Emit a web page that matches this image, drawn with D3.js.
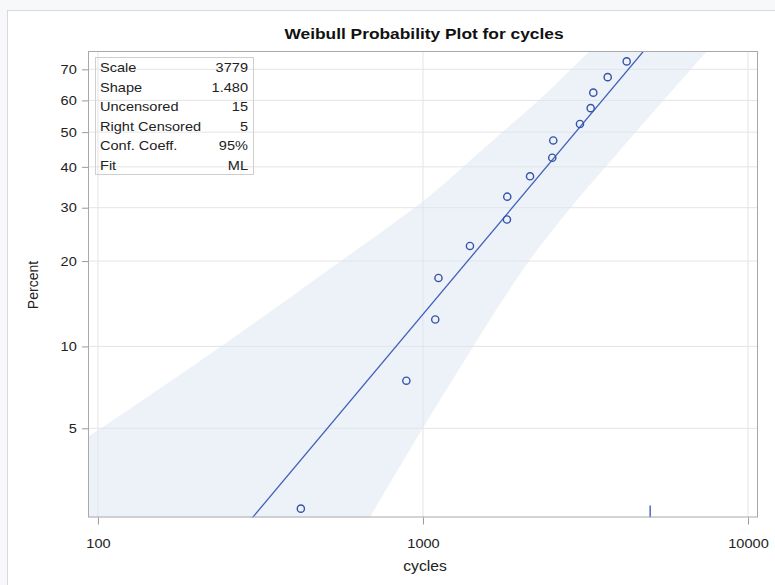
<!DOCTYPE html>
<html>
<head>
<meta charset="utf-8">
<script src="https://cdn.jsdelivr.net/npm/d3@7"></script>
<style>
  html, body { margin: 0; padding: 0; background: #f7f8fa; }
  svg { display: block; font-family: "Liberation Sans", Arial, sans-serif; }
</style>
</head>
<body>
<svg id="chart" width="775" height="585"></svg>
<script>
/* Data */
const chartTitle = "Weibull Probability Plot for cycles";
const xLabel = "cycles";
const yLabel = "Percent";
const xTicks = [100, 1000, 10000];
const yTicks = [5, 10, 20, 30, 40, 50, 60, 70];

/* failures (uncensored), plotted at their percent ranks */
const failCycles = [421, 889, 1091, 1116, 1395, 1813, 1817, 2135, 2499, 2517, 3041, 3281, 3342, 3701, 4234];
const failPercent = [2.5, 7.5, 12.5, 17.5, 22.5, 27.5, 32.5, 37.5, 42.5, 47.5, 52.5, 57.5, 62.5, 67.5, 72.5];

/* right censored times */
const censoredCycles = [5000];

/* ML fit */
const fitScale = 3779;
const fitShape = 1.48;

/* 95% confidence band */
const bandUpperCycles = [50, 60, 82, 93.2, 242, 518, 1000, 1327, 1763, 2291, 2834, 3265, 3761, 4300];
const bandUpperPercent = [3.9, 3.95, 4.19, 4.64, 10.0, 18.9, 31.0, 40.0, 50.3, 60.1, 69.8, 75.7, 81.2, 86];
const bandLowerCycles = [9500, 8437, 7478, 4039, 2181, 1425, 1000, 687, 622, 560, 300, 50];
const bandLowerPercent = [86, 81.2, 75.7, 44.7, 21.8, 9.95, 5.06, 2.32, 1.90, 1.6, 1.6, 1.6];

/* inset table */
const statLabels = ["Scale", "Shape", "Uncensored", "Right Censored", "Conf. Coeff.", "Fit"];
const statValues = ["3779", "1.480", "15", "5", "95%", "ML"];

/* Weibull probability transform */
const weib = p => Math.log(-Math.log(1 - p / 100));

/* Dimensions */
const plot = { left: 88, right: 758, top: 51, bottom: 517.5 };
const stretch = 1.12; /* the reference text is drawn a little wide */

const svg = d3.select("#chart");

/* outer frame */
svg.append("rect")
    .attr("x", 7.5).attr("y", 10.5)
    .attr("width", 800).attr("height", 600)
    .attr("fill", "#fff")
    .attr("stroke", "#d9d9d9");

/* Scales */
const xScale = d3.scaleLog()
    .domain([93.2, 10734])
    .range([plot.left, plot.right]);

const yScale = d3.scaleLinear()
    .domain([weib(2.315), weib(75.69)])
    .range([plot.bottom, plot.top]);

svg.append("clipPath").attr("id", "clip")
  .append("rect")
    .attr("x", plot.left).attr("y", plot.top)
    .attr("width", plot.right - plot.left)
    .attr("height", plot.bottom - plot.top);

const g = svg.append("g");
const inner = g.append("g").attr("clip-path", "url(#clip)");

/* Gridlines */
inner.selectAll(".ygrid")
    .data(yTicks)
    .join("line")
      .attr("x1", plot.left).attr("x2", plot.right)
      .attr("y1", d => yScale(weib(d))).attr("y2", d => yScale(weib(d)))
      .attr("stroke", "#e4e4e4");

inner.selectAll(".xgrid")
    .data(xTicks)
    .join("line")
      .attr("x1", d => xScale(d)).attr("x2", d => xScale(d))
      .attr("y1", plot.top).attr("y2", plot.bottom)
      .attr("stroke", "#e4e4e4");

/* Confidence band */
const bandPts = bandUpperCycles.map((c, i) => [c, bandUpperPercent[i]])
    .concat(bandLowerCycles.map((c, i) => [c, bandLowerPercent[i]]));

inner.append("path")
    .datum(bandPts)
    .attr("d", d3.line()
        .x(d => xScale(d[0]))
        .y(d => yScale(weib(d[1])))
        .curve(d3.curveBasisClosed))
    .attr("fill", "#dce6f2")
    .attr("fill-opacity", 0.5);

/* Fitted line */
const fitPct = [1, 90];
inner.append("path")
    .datum(fitPct)
    .attr("d", d3.line()
        .x(p => xScale(fitScale * Math.pow(-Math.log(1 - p / 100), 1 / fitShape)))
        .y(p => yScale(weib(p))))
    .attr("fill", "none")
    .attr("stroke", "#3f60bb")
    .attr("stroke-width", 1.3);

/* Points */
inner.selectAll(".pt")
    .data(failCycles)
    .join("circle")
      .attr("cx", d => xScale(d))
      .attr("cy", (d, i) => yScale(weib(failPercent[i])))
      .attr("r", 3.6)
      .attr("fill", "none")
      .attr("stroke", "#3553a8")
      .attr("stroke-width", 1.4);

/* Censored marks */
inner.selectAll(".cens")
    .data(censoredCycles)
    .join("line")
      .attr("x1", d => xScale(d)).attr("x2", d => xScale(d))
      .attr("y1", plot.bottom - 12).attr("y2", plot.bottom)
      .attr("stroke", "#3553a8")
      .attr("stroke-width", 1.3);

/* Plot border */
g.append("rect")
    .attr("x", plot.left + 0.5).attr("y", plot.top + 0.5)
    .attr("width", plot.right - plot.left - 1)
    .attr("height", plot.bottom - plot.top - 1)
    .attr("fill", "none")
    .attr("stroke", "#a8a8a8");

/* Axes */
const xAxis = g.append("g")
    .attr("transform", `translate(0,${plot.bottom})`)
    .call(d3.axisBottom(xScale).tickValues(xTicks).tickFormat(d3.format("d")).tickSize(7).tickPadding(14));
xAxis.select(".domain").remove();
xAxis.selectAll("line").attr("stroke", "#9a9a9a");
xAxis.selectAll("text")
    .attr("font-size", 13).attr("fill", "#222").attr("font-family", null)
    .attr("transform", `scale(${stretch},1)`);

const yAxis = g.append("g")
    .attr("transform", `translate(${plot.left},0)`)
    .call(d3.axisLeft(yScale).tickValues(yTicks.map(weib)).tickFormat((d, i) => yTicks[i]).tickSize(6).tickPadding(4));
yAxis.select(".domain").remove();
yAxis.selectAll("line").attr("stroke", "#9a9a9a");
yAxis.selectAll("text")
    .attr("font-size", 13).attr("fill", "#222").attr("font-family", null)
    .attr("transform", `scale(${stretch},1)`);

/* Titles */
svg.append("text")
    .attr("transform", `translate(424,39) scale(${stretch},1)`)
    .attr("text-anchor", "middle")
    .attr("font-size", 15.5)
    .attr("font-weight", "bold")
    .attr("fill", "#111")
    .text(chartTitle);

svg.append("text")
    .attr("transform", `translate(425,571) scale(${stretch},1)`)
    .attr("text-anchor", "middle")
    .attr("font-size", 14)
    .attr("fill", "#222")
    .text(xLabel);

svg.append("text")
    .attr("transform", "translate(38,285) rotate(-90)")
    .attr("text-anchor", "middle")
    .attr("font-size", 14)
    .attr("fill", "#222")
    .text(yLabel);

/* Inset table */
const inset = g.append("g");
inset.append("rect")
    .attr("x", 95.5).attr("y", 57.5)
    .attr("width", 158).attr("height", 117)
    .attr("fill", "none")
    .attr("stroke", "#cfcfcf");

inset.selectAll(".slab")
    .data(statLabels)
    .join("text")
      .attr("transform", (d, i) => `translate(100,${72 + i * 19.6}) scale(${stretch},1)`)
      .attr("font-size", 13)
      .attr("fill", "#222")
      .text(d => d);

inset.selectAll(".sval")
    .data(statValues)
    .join("text")
      .attr("transform", (d, i) => `translate(248,${72 + i * 19.6}) scale(${stretch},1)`)
      .attr("text-anchor", "end")
      .attr("font-size", 13)
      .attr("fill", "#222")
      .text(d => d);
</script>
</body>
</html>
